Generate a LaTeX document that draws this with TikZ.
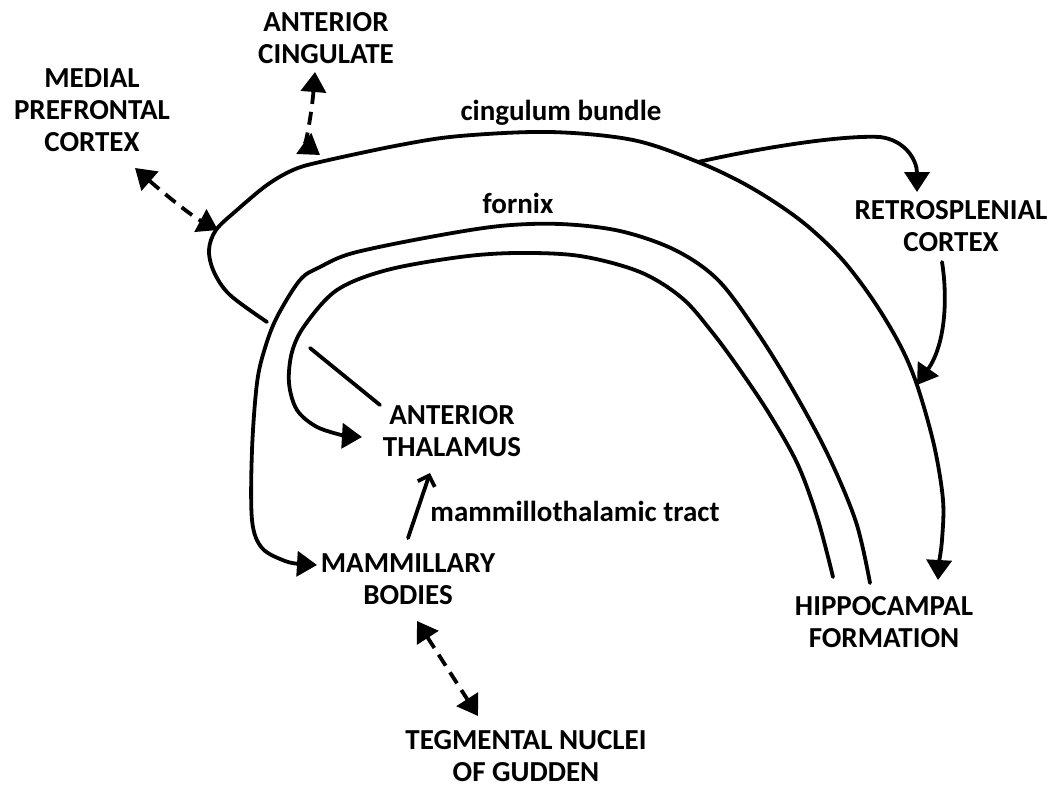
\documentclass[tikz,border=0pt]{standalone}
\usepackage{fontspec}
\setmainfont{Carlito}
\usetikzlibrary{arrows.meta}
\begin{document}
\begin{tikzpicture}[x=1pt,y=-1pt,
  lbl/.style={font=\fontsize{29}{32}\selectfont\bfseries, align=center, inner sep=0pt},
  sublbl/.style={font=\fontsize{29}{32}\selectfont\bfseries, inner sep=0pt, anchor=base},
  tract/.style={line width=3.8pt, line cap=round, line join=round},
  tri/.style={-{Triangle[length=20pt,width=25pt]}},
  dtri/.style={{Triangle[length=20pt,width=25pt]}-{Triangle[length=20pt,width=25pt]}},
  dsh/.style={dash pattern=on 13pt off 8pt, line cap=butt}]
\useasboundingbox (0,0) rectangle (1057,787);

% labels
\node[lbl] (ac) at (326,38) {ANTERIOR\\CINGULATE};
\node[lbl] (mpc) at (92,110) {MEDIAL\\PREFRONTAL\\CORTEX};
\node[lbl] (rsc) at (951,226) {RETROSPLENIAL\\CORTEX};
\node[lbl] (at) at (452,431) {ANTERIOR\\THALAMUS};
\node[lbl] (mb) at (408,579) {MAMMILLARY\\BODIES};
\node[lbl] (hf) at (884,622) {HIPPOCAMPAL\\FORMATION};
\node[lbl] (tng) at (526,756) {TEGMENTAL NUCLEI\\OF GUDDEN};
\node[sublbl] (cb) at (561,120) {cingulum bundle};
\node[sublbl] (fx) at (518,213) {fornix};
\node[sublbl] (mtt) at (575,521) {mammillothalamic tract};

% arrow end points
\coordinate (hfTip) at (938,580);
\coordinate (mbTip) at (317,565);
\coordinate (atTip) at (362,437);
\coordinate (cbJ) at (698,162);
\coordinate (rscTip) at (917,192);
\coordinate (rscOut) at (942,262);
\coordinate (rscIn) at (917,385);

% cingulum bundle (outer)
\draw[tract,tri] plot[smooth,tension=0.55] coordinates {(267,322) (230,295) (214,272) (209,250) (216,230) (237,210) (267,185) (293,170) (320,162) (400,145) (460,136) (550,132) (633,140) (698,162) (750,187) (800,220) (840,257) (873,300) (900,345) (917,385) (934,445) (943,500) (942,540) (939,562)} -- (hfTip);
\draw[tract] (310,348) -- (380,405);

% fornix outer
\draw[tract,tri] plot[smooth,tension=0.55] coordinates {(870,583) (856,522) (828,455) (793,390) (757,332) (718,280) (675,250) (620,231) (560,224) (500,226) (430,237) (353,253) (320,267) (300,280) (277,317) (265,348) (257,383) (252,450) (252,520) (262,548) (285,561) (300,564)} -- (mbTip);

% fornix inner
\draw[tract,tri] plot[smooth,tension=0.55] coordinates {(833,577) (818,520) (798,465) (770,415) (740,370) (712,332) (682,298) (640,272) (580,256) (517,253) (460,257) (387,270) (337,290) (305,325) (292,352) (289,383) (297,410) (317,427) (345,436)} -- (atTip);

% cingulum to retrosplenial
\draw[tract,tri] (cbJ) .. controls (760,148) and (840,135) .. (880,137) .. controls (905,140) and (917,160) .. (rscTip);
% retrosplenial to hippocampal side
\draw[tract,tri] (rscOut) .. controls (948,300) and (945,345) .. (rscIn);

% mammillothalamic tract
\draw[tract,-{Straight Barb[length=9pt,width=18pt]}] (408,538) -- (430,473);

% dashed reciprocal connections
\draw[tract,dsh,dtri] (315,72) .. controls (312,110) and (306,145) .. (320,155);
\draw[tract,dsh,dtri] (135,168) .. controls (160,190) and (190,215) .. (218,230);
\draw[tract,dsh,dtri] (417,621) -- (478,716);
\end{tikzpicture}
\end{document}
